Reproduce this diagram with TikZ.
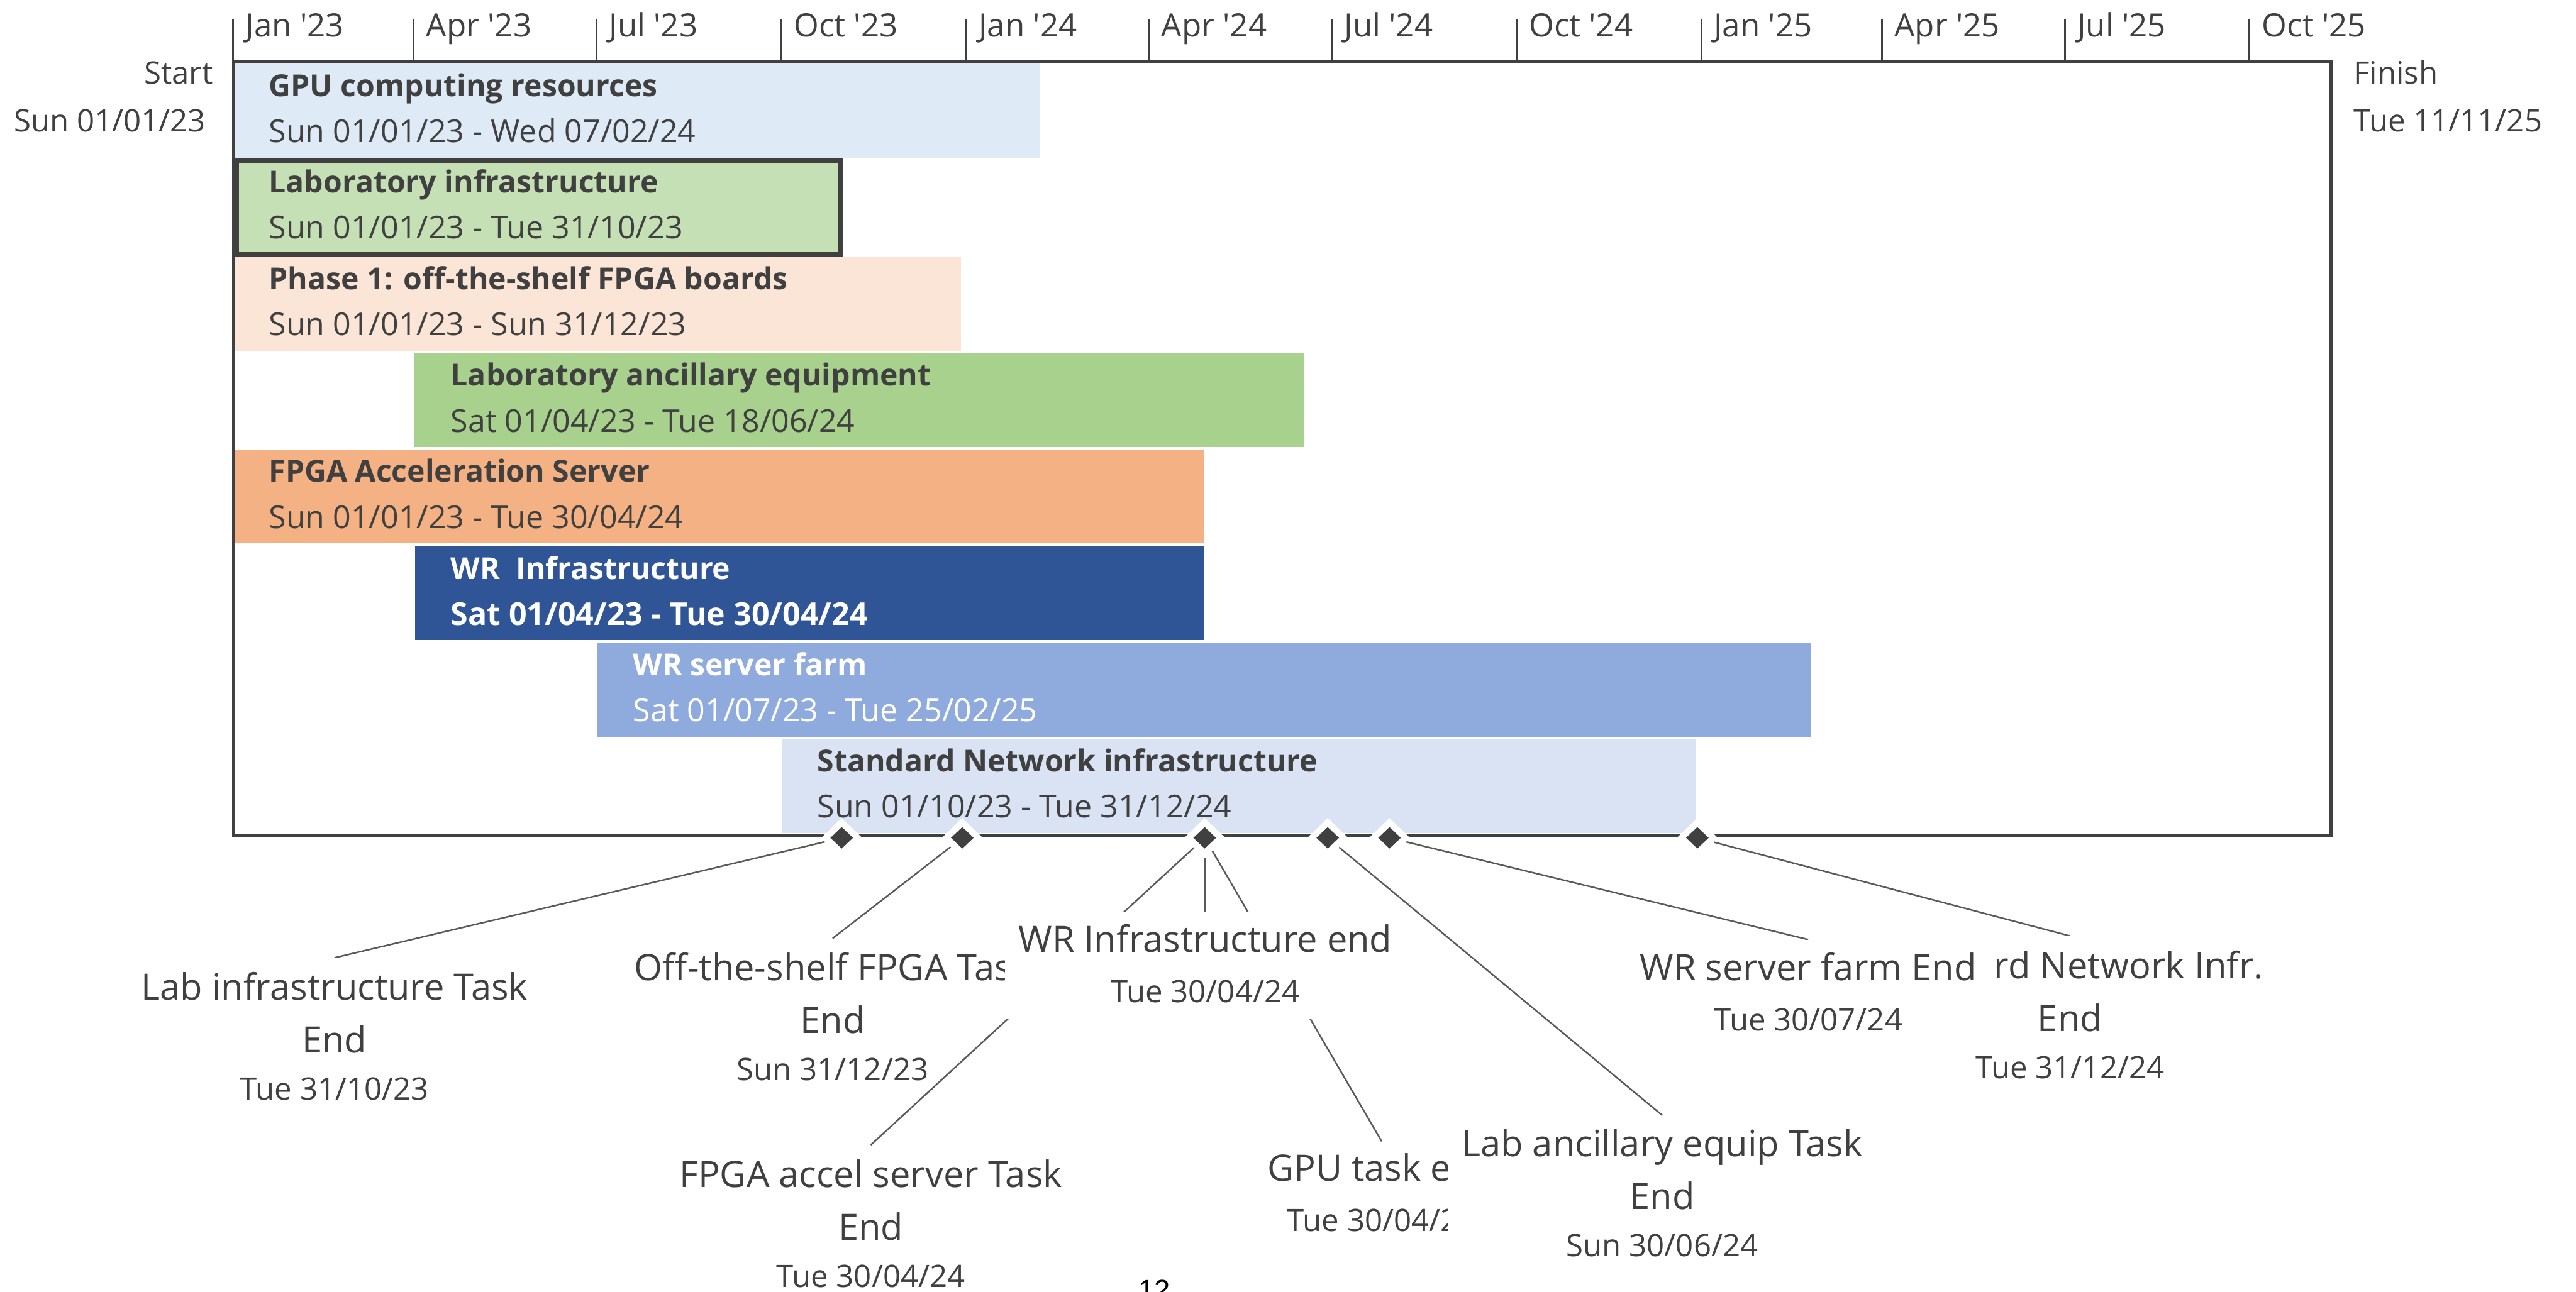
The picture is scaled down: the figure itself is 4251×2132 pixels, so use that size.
\documentclass[tikz,border=0pt]{standalone}
\usepackage{fontspec}
\setmainfont{Open Sans}[Ligatures=TeXOff]
\newfontfamily\pagenumfont{Liberation Sans}
\usetikzlibrary{shapes.geometric}

\definecolor{ink}{HTML}{404040}
\definecolor{connector}{HTML}{5A5A5A}
\definecolor{barGPU}{HTML}{DEEBF7}
\definecolor{barLab}{HTML}{C5E0B4}
\definecolor{barPhase}{HTML}{FBE5D6}
\definecolor{barAnc}{HTML}{A9D18E}
\definecolor{barFPGA}{HTML}{F4B183}
\definecolor{barWR}{HTML}{2F5597}
\definecolor{barServer}{HTML}{8FAADC}
\definecolor{barNet}{HTML}{DAE3F3}

% fonts of the callouts below the timeline
\newcommand\calldate{\fontsize{12.75pt}{21.75pt}\selectfont}
\newcommand\callouttop[1]{\rule{0pt}{#1}}
\newcommand\calloutbot{\rule[-6.5pt]{0pt}{6.5pt}}

\begin{document}
\begin{tikzpicture}[x=0.25pt, y=-0.25pt,
  bartitle/.style={anchor=base west, inner sep=0pt, text=ink,
    font=\fontsize{12.5pt}{15pt}\selectfont\bfseries},
  bardate/.style={anchor=base west, inner sep=0pt, text=ink,
    font=\fontsize{13pt}{15pt}\selectfont},
  axislabel/.style={anchor=base west, inner sep=0pt, text=ink,
    font=\fontsize{13.25pt}{16pt}\selectfont},
  endlabel/.style={inner sep=0pt, text=ink,
    font=\fontsize{12.75pt}{16pt}\selectfont},
  halo/.style={diamond, fill=white, inner sep=0pt,
    minimum width=17pt, minimum height=16.5pt},
  gem/.style={diamond, fill=ink, inner sep=0pt,
    minimum width=9.5pt, minimum height=9pt},
  conn/.style={draw=connector, line width=0.65pt},
  callout/.style={fill=white, inner xsep=5.5pt, inner ysep=0pt,
    align=center, anchor=north, text=ink,
    font=\fontsize{15pt}{21.75pt}\selectfont}
]
\useasboundingbox (0,0) rectangle (4251,2132);

% ---- task bars ----
\fill[barGPU]    (385,105)  rectangle (1716,260);
\fill[barLab]    (386,261)  rectangle (1391,424);
\draw[ink, line width=2pt] (390,265) rectangle (1387,420);
\fill[barPhase]  (385,424)  rectangle (1586,579);
\fill[barAnc]    (684,583)  rectangle (2152,738);
\fill[barFPGA]   (385,742)  rectangle (1987,897);
\fill[barWR]     (685,902)  rectangle (1987,1057);
\fill[barServer] (986,1061) rectangle (2988,1216);
\fill[barNet]    (1290,1220) rectangle (2798,1375);

\node[bartitle] (t1) at (443,159)  {GPU computing resources};
\node[bardate]  (d1) at (443,235)  {Sun 01/01/23 - Wed 07/02/24};
\node[bartitle] (t2) at (443,318)  {Laboratory infrastructure};
\node[bardate]  (d2) at (443,394)  {Sun 01/01/23 - Tue 31/10/23};
\node[bartitle] (t3) at (443,478)  {Phase 1: off-the-shelf FPGA boards};
\node[bardate]  (d3) at (443,554)  {Sun 01/01/23 - Sun 31/12/23};
\node[bartitle] (t4) at (743,637)  {Laboratory ancillary equipment};
\node[bardate]  (d4) at (743,713)  {Sat 01/04/23 - Tue 18/06/24};
\node[bartitle] (t5) at (443,796)  {FPGA Acceleration Server};
\node[bardate]  (d5) at (443,872)  {Sun 01/01/23 - Tue 30/04/24};
\node[bartitle, text=white] (t6) at (743,956)  {WR\ \ Infrastructure};
\node[bardate, text=white, font=\fontsize{13pt}{15pt}\selectfont\bfseries]
  (d6) at (743,1032) {Sat 01/04/23 - Tue 30/04/24};
\node[bartitle, text=white] (t7) at (1044,1115) {WR server farm};
\node[bardate, text=white]  (d7) at (1044,1191) {Sat 01/07/23 - Tue 25/02/25};
\node[bartitle] (t8) at (1348,1274) {Standard Network infrastructure};
\node[bardate]  (d8) at (1348,1350) {Sun 01/10/23 - Tue 31/12/24};

% ---- frame and quarter scale ----
\draw[ink, line width=1.2pt] (385,102) rectangle (3847,1379);
\foreach \x/\m [count=\i] in {384.5/Jan '23, 682.8/Apr '23, 984.4/Jul '23,
    1289.4/Oct '23, 1594.3/Jan '24, 1895.9/Apr '24, 2197.5/Jul '24,
    2502.4/Oct '24, 2807.4/Jan '25, 3105.7/Apr '25, 3407.3/Jul '25,
    3712.2/Oct '25}{
  \draw[ink, line width=0.75pt] (\x,32) -- (\x,102);
  \node[axislabel] (q\i) at (\x+20,61) {\m};
}

\node[endlabel, anchor=base east] (startA) at (352,139) {Start};
\node[endlabel, anchor=base east] (startB) at (340,217) {Sun 01/01/23};
\node[endlabel, anchor=base west] (finA) at (3883,139) {Finish};
\node[endlabel, anchor=base west] (finB) at (3883,217) {Tue 11/11/25};

% ---- milestones on the bottom edge ----
\foreach \x [count=\i] in {1389,1588,1988,2191,2293,2801}{
  \node[halo] (m\i) at (\x,1383) {};
  \node[gem]  (g\i) at (\x,1383) {};
}

% top centres of the callouts
\coordinate (c1) at (552,1581);
\coordinate (c2) at (1374,1549);
\coordinate (c3) at (1437,1890);
\coordinate (c4) at (2280,1884);
\coordinate (c5) at (1989,1505);
\coordinate (c6) at (2743,1841);
\coordinate (c7) at (3416,1545);
\coordinate (c8) at (2984,1551);

% ---- callouts, each leader drawn before its own box ----
\draw[conn] (m1) -- (c1);
\node[callout] (l1) at (c1) {\callouttop{17.25pt}Lab infrastructure Task\\End\\[-2.25pt]\calldate Tue 31/10/23\calloutbot};

\draw[conn] (m2) -- (c2);
\node[callout] (l2) at (c2) {\callouttop{17.25pt}Off-the-shelf FPGA Task\\End\\[-2.25pt]\calldate Sun 31/12/23\calloutbot};

\draw[conn] (m3) -- (c3);
\node[callout] (l3) at (c3) {\callouttop{17.25pt}FPGA accel server Task\\End\\[-2.25pt]\calldate Tue 30/04/24\calloutbot};

\draw[conn] (m3) -- (c4);
\node[callout] (l4) at (c4) {\callouttop{16.25pt}GPU task end\\[-1pt]\calldate Tue 30/04/24\calloutbot};

\draw[conn] (m3) -- (c5);
\node[callout] (l5) at (c5) {\callouttop{16.5pt}WR Infrastructure end\\[-1pt]\calldate Tue 30/04/24\calloutbot};

\draw[conn] (m4) -- (c6);
\node[callout] (l6) at (c6) {\callouttop{16.75pt}Lab ancillary equip Task\\End\\[-2.25pt]\calldate Sun 30/06/24\calloutbot};

% the head of this callout sits under the neighbouring box
\draw[conn] (m6) -- (c7);
\node[callout] (l7) at (c7) {\callouttop{17.5pt}\phantom{Standa}rd Network Infr.\\End\\[-2.25pt]\calldate Tue 31/12/24\calloutbot};

\draw[conn] (m5) -- (c8);
\node[callout, inner xsep=6.5pt] (l8) at (c8) {\callouttop{16.75pt}WR server farm End\\[-1pt]\calldate Tue 30/07/24\calloutbot};

% page number at the foot
\node[anchor=base, inner sep=0pt, font=\pagenumfont\fontsize{11.75pt}{14pt}\selectfont]
  (pagenum) at (1905,2146) {12};
\end{tikzpicture}
\end{document}
